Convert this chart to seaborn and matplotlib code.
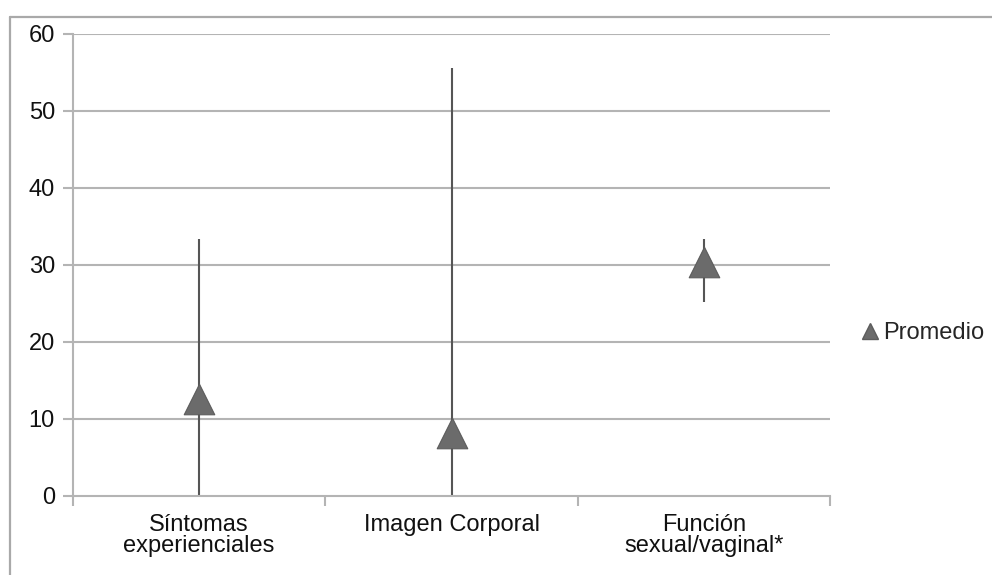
import matplotlib
matplotlib.use("Agg")
import matplotlib.pyplot as plt
from matplotlib.lines import Line2D
import seaborn as sns
import pandas as pd

# Scores per dimension: mean with observed min/max range
categories = ["Síntomas\nexperienciales", "Imagen Corporal", "Función\nsexual/vaginal*"]
promedio = [12.5, 8.1, 30.4]
minimo = [0.0, 0.0, 25.1]
maximo = [33.4, 55.6, 33.4]
y_ticks = [0, 10, 20, 30, 40, 50, 60]

sns.set_theme(style="white")
plt.rcParams["font.family"] = ["Liberation Sans", "DejaVu Sans"]

df = pd.DataFrame({"dim": categories, "promedio": promedio,
                   "minimo": minimo, "maximo": maximo})

fig = plt.figure(figsize=(9.92, 5.75), dpi=100)
ax = fig.add_axes([73 / 992, 1 - 495.5 / 575, (830 - 73) / 992, (495.5 - 34) / 575])

grid_c = "#b4b4b4"
for y in y_ticks[1:]:
    ax.axhline(y, color=grid_c, lw=1.5, zorder=0)

xpos = list(range(len(categories)))
ax.vlines(xpos, df["minimo"], df["maximo"], color="#555555", lw=1.5, zorder=2)

sns.scatterplot(data=df, x="dim", y="promedio", marker="^", s=22 ** 2,
                color="#6b6b6b", edgecolor="#5c5c5c", linewidth=0.8,
                zorder=3, ax=ax, legend=False)

ax.set_xlim(-0.5, len(categories) - 0.5)
ax.set_ylim(0, 60)
ax.set_yticks(y_ticks)
ax.set_yticklabels([str(v) for v in y_ticks])
ax.set_xticks(xpos)
ax.set_xticklabels(categories, linespacing=0.95)
ax.set_xticks([p - 0.5 for p in xpos] + [len(categories) - 0.5], minor=True)
ax.set_xlabel("")
ax.set_ylabel("")

ax.tick_params(axis="x", which="major", length=0, pad=13, labelsize=17, colors="#111111")
ax.tick_params(axis="x", which="minor", length=7, width=1.5, color=grid_c, direction="out", bottom=True)
ax.tick_params(axis="y", length=7, width=1.5, color=grid_c, direction="out", pad=6,
               labelsize=17, labelcolor="#111111", left=True)

for side in ["top", "right"]:
    ax.spines[side].set_visible(False)
for side in ["left", "bottom"]:
    ax.spines[side].set_color(grid_c)
    ax.spines[side].set_linewidth(1.5)

handle = Line2D([], [], marker="^", linestyle="none", markersize=12,
                markerfacecolor="#6b6b6b", markeredgecolor="#5c5c5c")
fig.legend([handle], ["Promedio"], loc="center left",
           bbox_to_anchor=(858 / 992, 1 - 333 / 575), frameon=False,
           fontsize=17, handletextpad=0.05, handlelength=1.0,
           borderpad=0, borderaxespad=0)

# outer frame of the chart area
fig.add_artist(Line2D([10 / 992, 1.0], [1 - 17 / 575] * 2, transform=fig.transFigure,
                      color="#a9a9a9", lw=1.6))
fig.add_artist(Line2D([10 / 992] * 2, [0.0, 1 - 17 / 575], transform=fig.transFigure,
                      color="#a9a9a9", lw=1.6))

fig.savefig("out.png", dpi=100)
